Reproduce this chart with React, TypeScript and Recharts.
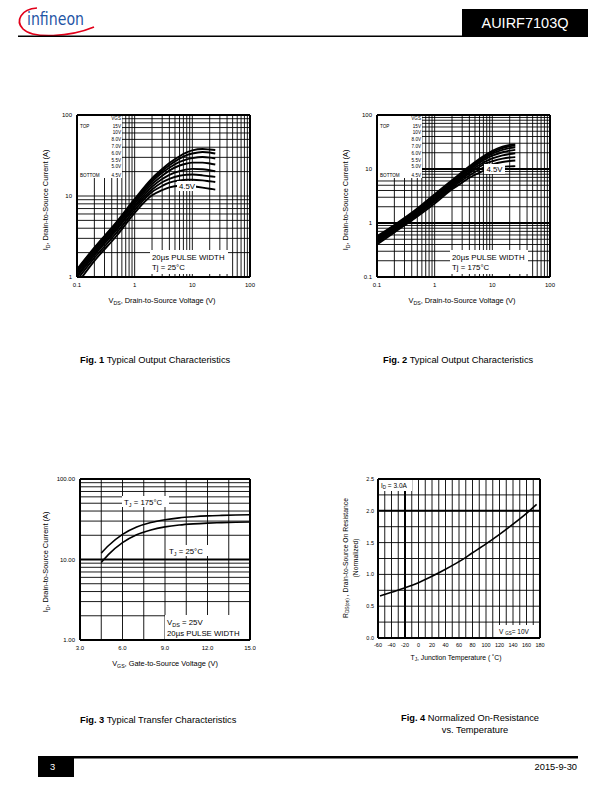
import React from 'react';
import { LineChart, Line, XAxis, YAxis, CartesianGrid, ReferenceLine } from 'recharts';

const FONT = '"Liberation Sans", Arial, Helvetica, sans-serif';

// ---------- Fig. 1 : Typical Output Characteristics, Tj = 25°C ----------
const fig1Vds = [0.1, 0.2, 0.5, 1, 2, 3, 4, 6, 8, 10, 15, 20, 25];
const fig1Id15V = [1.25, 2.3, 4.9, 9.2, 16.5, 21.5, 25.5, 31, 34.5, 36.5, 38, 37.5, 37];
const fig1Id10V = [1.22, 2.25, 4.75, 8.9, 15.8, 20.5, 24, 29, 32, 33.5, 35, 34.5, 33.5];
const fig1Id8V = [1.18, 2.15, 4.55, 8.5, 15, 19.3, 22.3, 26.3, 28.3, 29.3, 30.3, 29.8, 29];
const fig1Id7V = [1.12, 2.05, 4.35, 8.1, 14, 17.8, 20.6, 23.8, 25.2, 25.8, 25.8, 25.2, 24.5];
const fig1Id6V = [1.05, 1.95, 4.1, 7.6, 13, 16.2, 18.2, 20.3, 21.3, 21.6, 21.4, 20.8, 20.2];
const fig1Id55V = [1.0, 1.85, 3.9, 7.2, 12, 14.8, 16.3, 17.8, 18.3, 18.4, 18, 17.5, 17.2];
const fig1Id5V = [0.92, 1.72, 3.6, 6.7, 11.2, 13.3, 14.6, 15.6, 15.9, 15.9, 15.6, 15.2, 14.9];
const fig1Id45V = [0.82, 1.58, 3.3, 6.2, 10.2, 11.8, 12.8, 13.4, 13.4, 13.2, 12.7, 12.3, 12];

// ---------- Fig. 2 : Typical Output Characteristics, Tj = 175°C ----------
const fig2Vds = [0.1, 0.2, 0.5, 1, 2, 3, 4, 6, 8, 10, 15, 20, 25];
const fig2Id15V = [0.57, 0.92, 1.85, 3.4, 6.2, 8.8, 11.2, 15.5, 19, 21.8, 26, 28, 28.6];
const fig2Id10V = [0.55, 0.89, 1.78, 3.25, 5.95, 8.4, 10.7, 14.8, 18, 20.6, 24.5, 26.4, 27.1];
const fig2Id8V = [0.52, 0.85, 1.7, 3.1, 5.7, 8.0, 10.2, 14, 16.9, 19.2, 22.6, 24.4, 25.3];
const fig2Id7V = [0.5, 0.81, 1.62, 2.95, 5.4, 7.6, 9.6, 13.1, 15.7, 17.6, 20.4, 21.9, 22.6];
const fig2Id6V = [0.47, 0.77, 1.54, 2.8, 5.1, 7.1, 8.9, 12, 14.2, 15.7, 17.9, 19, 19.6];
const fig2Id55V = [0.45, 0.74, 1.47, 2.65, 4.8, 6.7, 8.3, 11, 12.8, 13.9, 15.6, 16.3, 16.6];
const fig2Id5V = [0.43, 0.71, 1.4, 2.5, 4.5, 6.2, 7.6, 9.8, 11.3, 12.2, 13.5, 14.1, 14.4];
const fig2Id45V = [0.4, 0.67, 1.32, 2.3, 4.2, 5.6, 6.9, 8.6, 9.7, 10.3, 11, 11.2, 11.3];

const vgsKeys = ['v15', 'v10', 'v8', 'v7', 'v6', 'v55', 'v5', 'v45'];
const vgsLegend = ['15V', '10V', '8.0V', '7.0V', '6.0V', '5.5V', '5.0V', '4.5V'];

// ---------- Fig. 3 : Typical Transfer Characteristics ----------
const fig3Vgs = [4.5, 5, 6, 7, 8, 9, 10, 11, 12, 13, 14, 15];
const fig3Id175 = [12, 14.8, 20.5, 25.3, 28.8, 31.2, 32.9, 34, 34.8, 35.3, 35.7, 36];
const fig3Id25 = [9.2, 11.5, 16.2, 20.3, 23.3, 25.4, 26.8, 27.7, 28.3, 28.7, 29, 29.2];

// ---------- Fig. 4 : Normalized On-Resistance vs Temperature ----------
const fig4Tj = [-57, -40, -20, 0, 20, 40, 60, 80, 100, 120, 140, 160, 175];
const fig4Rds = [0.66, 0.72, 0.79, 0.87, 0.97, 1.08, 1.2, 1.34, 1.48, 1.63, 1.79, 1.96, 2.1];

// ---------- ticks ----------
const logTicks01to100 = [0.1, 0.2, 0.3, 0.4, 0.5, 0.6, 0.7, 0.8, 0.9, 1, 2, 3, 4, 5, 6, 7, 8, 9, 10, 20, 30, 40, 50, 60, 70, 80, 90, 100];
const logTicks1to100 = [1, 2, 3, 4, 5, 6, 7, 8, 9, 10, 20, 30, 40, 50, 60, 70, 80, 90, 100];
const decadeLabels: Record<string, string> = { '0.1': '0.1', '1': '1', '10': '10', '100': '100' };
const fig3YLabels: Record<string, string> = { '1': '1.00', '10': '10.00', '100': '100.00' };
const fig3XTicks = [3, 4.5, 6, 7.5, 9, 10.5, 12, 13.5, 15];
const fig3XLabels: Record<string, string> = { '3': '3.0', '6': '6.0', '9': '9.0', '12': '12.0', '15': '15.0' };
const fig4XTicks = [-60, -50, -40, -30, -20, -10, 0, 10, 20, 30, 40, 50, 60, 70, 80, 90, 100, 110, 120, 130, 140, 150, 160, 170, 180];
const fig4YTicks = [0, 0.25, 0.5, 0.75, 1, 1.25, 1.5, 1.75, 2, 2.25, 2.5];
const fig4YLabels: Record<string, string> = { '0': '0.0', '0.5': '0.5', '1': '1.0', '1.5': '1.5', '2': '2.0', '2.5': '2.5' };

const mkRows = (x: number[], s: number[][]) =>
  x.map((vds, i) => {
    const r: any = { vds };
    vgsKeys.forEach((k, j) => (r[k] = s[j][i]));
    return r;
  });

const fig1Rows = mkRows(fig1Vds, [fig1Id15V, fig1Id10V, fig1Id8V, fig1Id7V, fig1Id6V, fig1Id55V, fig1Id5V, fig1Id45V]);
const fig2Rows = mkRows(fig2Vds, [fig2Id15V, fig2Id10V, fig2Id8V, fig2Id7V, fig2Id6V, fig2Id55V, fig2Id5V, fig2Id45V]);
const fig3Rows = fig3Vgs.map((vgs, i) => ({ vgs, t175: fig3Id175[i], t25: fig3Id25[i] }));
const fig4Rows = fig4Tj.map((tj, i) => ({ tj, r: fig4Rds[i] }));

const ML = 30;
const MR = 6;
const MT = 6;
const MB = 16;

const tickStyle = { fontSize: 6, fill: '#000', fontFamily: FONT };
const tickStyle4 = { fontSize: 5.5, fill: '#000', fontFamily: FONT };

const box = (left: number, top: number): React.CSSProperties => ({ position: 'absolute', left: left - ML, top: top - MT });

function OutputChart({ left, top, rows, yMin, yTicks, yLabels }: any) {
  const W = 173;
  const H = 162;
  return (
    <div style={box(left, top)}>
      <LineChart width={W + ML + MR} height={H + MT + MB} data={rows} margin={{ top: MT, right: MR, left: 0, bottom: 0 }}>
        <CartesianGrid stroke="#000" strokeWidth={0.9} />
        <XAxis dataKey="vds" type="number" scale="log" domain={[0.1, 100]} ticks={logTicks01to100} interval={0}
          tickFormatter={(v: number) => decadeLabels[String(v)] ?? ''} tickLine={false} axisLine={false}
          tickSize={0} tickMargin={6} height={MB} tick={tickStyle} allowDataOverflow />
        <YAxis type="number" scale="log" domain={[yMin, 100]} ticks={yTicks} interval={0}
          tickFormatter={(v: number) => yLabels[String(v)] ?? ''} tickLine={false} axisLine={false}
          tickSize={0} tickMargin={5} width={ML} tick={tickStyle} allowDataOverflow />
        <ReferenceLine x={0.1} stroke="#000" strokeWidth={2} />
        <ReferenceLine x={100} stroke="#000" strokeWidth={2} />
        <ReferenceLine y={yMin} stroke="#000" strokeWidth={2} />
        <ReferenceLine y={100} stroke="#000" strokeWidth={2} />
        {yMin < 1 && <ReferenceLine y={1} stroke="#000" strokeWidth={2} />}
        {yMin < 1 && <ReferenceLine y={10} stroke="#000" strokeWidth={2} />}
        {vgsKeys.map((k) => (
          <Line key={k} dataKey={k} type="monotone" stroke="#000" strokeWidth={1.9} dot={false} isAnimationActive={false} />
        ))}
      </LineChart>
    </div>
  );
}

function Legend({ x, y }: { x: number; y: number }) {
  const rowsY = [128.4, 134.4, 141, 148.4, 155, 161.7, 168.4, 176.7];
  return (
    <g fontFamily={FONT} fontSize={4.6} fill="#000">
      <rect x={x + 1} y={y + 1} width={44} height={62} fill="#fff" />
      <text x={x + 44} y={y + 5} textAnchor="end">VGS</text>
      <text x={x + 3} y={rowsY[0] - 115 + y}>TOP</text>
      <text x={x + 3} y={rowsY[7] - 115 + y}>BOTTOM</text>
      {vgsLegend.map((l, i) => (
        <text key={l} x={x + 44} y={rowsY[i] - 115 + y} textAnchor="end">{l}</text>
      ))}
    </g>
  );
}

function Caption({ x, y, num, text }: any) {
  return (
    <text x={x} y={y} fontFamily={FONT} fontSize={9.3} fill="#000">
      <tspan fontWeight="bold">{num}</tspan>
      <tspan>{text}</tspan>
    </text>
  );
}

function Overlay() {
  const t7 = { fontFamily: FONT, fontSize: 7.4, fill: '#000' } as any;
  const t8 = { fontFamily: FONT, fontSize: 7.8, fill: '#000' } as any;
  return (
    <svg width={612} height={792} style={{ position: 'absolute', left: 0, top: 0, pointerEvents: 'none' }}>
      {/* header */}
      <path d="M 37 8 C 21 9 15 21 23 29 C 33 39 70 37 94 27" stroke="#e2001a" strokeWidth={1.7} fill="none" />
      <text x={27} y={25} fontFamily='"DejaVu Sans Condensed", "Liberation Sans", sans-serif' fontSize={17}
        fill="#1f56a5" textLength={57} lengthAdjust="spacingAndGlyphs">infineon</text>
      <rect x={18} y={35.5} width={570} height={1.5} fill="#000" />
      <rect x={462} y={9} width={126} height={27} fill="#000" />
      <text x={525} y={28} textAnchor="middle" fontFamily={FONT} fontSize={14.5} fill="#fff">AUIRF7103Q</text>

      {/* Fig 1 annotations */}
      <Legend x={77} y={115} />
      <rect x={150} y={250} width={78} height={24} fill="#fff" />
      <text x={152} y={259.5} {...t8}>20µs PULSE WIDTH</text>
      <text x={152} y={270} {...t8}>Tj = 25°C</text>
      <rect x={177} y={181} width={19} height={10} fill="#fff" />
      <text x={179} y={189} {...t8}>4.5V</text>
      <text x={48} y={200} transform="rotate(-90 48 200)" textAnchor="middle" {...t7}>
        <tspan>I</tspan><tspan fontSize={5.2} dy={1.5}>D</tspan><tspan dy={-1.5}>, Drain-to-Source Current (A)</tspan>
      </text>
      <text x={162} y={303} textAnchor="middle" {...t7}>
        <tspan>V</tspan><tspan fontSize={5.2} dy={1.5}>DS</tspan><tspan dy={-1.5}>, Drain-to-Source Voltage (V)</tspan>
      </text>

      {/* Fig 2 annotations */}
      <Legend x={377} y={115} />
      <rect x={450} y={250} width={78} height={24} fill="#fff" />
      <text x={452} y={259.5} {...t8}>20µs PULSE WIDTH</text>
      <text x={452} y={270} {...t8}>Tj = 175°C</text>
      <rect x={484} y={164} width={21} height={10} fill="#fff" />
      <text x={486.5} y={172} {...t8}>4.5V</text>
      <text x={348} y={200} transform="rotate(-90 348 200)" textAnchor="middle" {...t7}>
        <tspan>I</tspan><tspan fontSize={5.2} dy={1.5}>D</tspan><tspan dy={-1.5}>, Drain-to-Source Current (A)</tspan>
      </text>
      <text x={462} y={303} textAnchor="middle" {...t7}>
        <tspan>V</tspan><tspan fontSize={5.2} dy={1.5}>DS</tspan><tspan dy={-1.5}>, Drain-to-Source Voltage (V)</tspan>
      </text>

      {/* Fig 3 annotations */}
      <rect x={122} y={496} width={47} height={11} fill="#fff" />
      <text x={124} y={505} {...t8}>
        <tspan>T</tspan><tspan fontSize={5.5} dy={1.5}>J</tspan><tspan dy={-1.5}> = 175°C</tspan>
      </text>
      <rect x={167} y={545} width={42} height={11} fill="#fff" />
      <text x={169} y={554} {...t8}>
        <tspan>T</tspan><tspan fontSize={5.5} dy={1.5}>J</tspan><tspan dy={-1.5}> = 25°C</tspan>
      </text>
      <rect x={165} y={615} width={84} height={24} fill="#fff" />
      <text x={167} y={625} {...t8}>
        <tspan>V</tspan><tspan fontSize={5.5} dy={1.5}>DS</tspan><tspan dy={-1.5}> = 25V</tspan>
      </text>
      <text x={167} y={635.5} {...t8}>20µs PULSE WIDTH</text>
      <text x={48} y={562} transform="rotate(-90 48 562)" textAnchor="middle" {...t7}>
        <tspan>I</tspan><tspan fontSize={5.2} dy={1.5}>D</tspan><tspan dy={-1.5}>, Drain-to-Source Current  (A)</tspan>
      </text>
      <text x={165} y={666} textAnchor="middle" {...t7}>
        <tspan>V</tspan><tspan fontSize={5.2} dy={1.5}>GS</tspan><tspan dy={-1.5}>, Gate-to-Source Voltage (V)</tspan>
      </text>

      {/* Fig 4 annotations */}
      <rect x={379} y={480} width={33} height={11} fill="#fff" />
      <text x={381} y={488} fontFamily={FONT} fontSize={6.5} fill="#000">
        <tspan>I</tspan><tspan fontSize={4.5} dy={1.2}>D</tspan><tspan dy={-1.2}> = 3.0A</tspan>
      </text>
      <rect x={497} y={625} width={42} height={12} fill="#fff" />
      <text x={499} y={634} fontFamily={FONT} fontSize={6.5} fill="#000">
        <tspan>V </tspan><tspan fontSize={4.5} dy={1.2}>GS</tspan><tspan dy={-1.2}>= 10V</tspan>
      </text>
      <text x={348} y={558} transform="rotate(-90 348 558)" textAnchor="middle" fontFamily={FONT} fontSize={6.8} fill="#000">
        <tspan>R</tspan><tspan fontSize={4.7} dy={1.2}>DS(on)</tspan><tspan dy={-1.2}> , Drain-to-Source On Resistance</tspan>
      </text>
      <text x={358} y={558} transform="rotate(-90 358 558)" textAnchor="middle" fontFamily={FONT} fontSize={6.8} fill="#000">(Normalized)</text>
      <text x={456} y={660} textAnchor="middle" fontFamily={FONT} fontSize={6.8} fill="#000">
        <tspan>T</tspan><tspan fontSize={4.7} dy={1.2}>J</tspan><tspan dy={-1.2}>, Junction Temperature    ( ˚C)</tspan>
      </text>

      {/* captions */}
      <Caption x={80} y={363} num="Fig. 1" text=" Typical Output Characteristics" />
      <Caption x={383} y={363} num="Fig. 2" text=" Typical Output Characteristics" />
      <Caption x={80} y={723} num="Fig. 3" text=" Typical Transfer Characteristics" />
      <Caption x={401} y={721} num="Fig. 4" text=" Normalized On-Resistance" />
      <text x={475} y={733} textAnchor="middle" fontFamily={FONT} fontSize={9.3} fill="#000">vs. Temperature</text>

      {/* footer */}
      <rect x={38} y={756} width={540} height={2.5} fill="#000" />
      <rect x={38} y={756} width={36} height={21} fill="#000" />
      <text x={50} y={770} fontFamily={FONT} fontSize={9.3} fill="#fff">3</text>
      <text x={577} y={770} textAnchor="end" fontFamily={FONT} fontSize={9.3} fill="#000">2015-9-30</text>
    </svg>
  );
}

export default function App() {
  return (
    <div style={{ position: 'absolute', left: 0, top: 0, width: 612, height: 792, background: '#fff', overflow: 'hidden' }}>
      <OutputChart left={77} top={115} rows={fig1Rows} yMin={1} yTicks={logTicks1to100} yLabels={decadeLabels} />
      <OutputChart left={377} top={115} rows={fig2Rows} yMin={0.1} yTicks={logTicks01to100} yLabels={decadeLabels} />

      {/* Fig 3 */}
      <div style={box(80, 479)}>
        <LineChart width={170 + ML + MR} height={161 + MT + MB} data={fig3Rows} margin={{ top: MT, right: MR, left: 0, bottom: 0 }}>
          <CartesianGrid stroke="#000" strokeWidth={0.9} />
          <XAxis dataKey="vgs" type="number" domain={[3, 15]} ticks={fig3XTicks} interval={0}
            tickFormatter={(v: number) => fig3XLabels[String(v)] ?? ''} tickLine={false} axisLine={false}
            tickSize={0} tickMargin={6} height={MB} tick={tickStyle} allowDataOverflow />
          <YAxis type="number" scale="log" domain={[1, 100]} ticks={logTicks1to100} interval={0}
            tickFormatter={(v: number) => fig3YLabels[String(v)] ?? ''} tickLine={false} axisLine={false}
            tickSize={0} tickMargin={5} width={ML} tick={tickStyle} allowDataOverflow />
          <ReferenceLine x={3} stroke="#000" strokeWidth={2} />
          <ReferenceLine x={15} stroke="#000" strokeWidth={2} />
          <ReferenceLine y={1} stroke="#000" strokeWidth={2} />
          <ReferenceLine y={100} stroke="#000" strokeWidth={2} />
          <ReferenceLine y={10} stroke="#000" strokeWidth={1.8} />
          <Line dataKey="t175" type="monotone" stroke="#000" strokeWidth={1.6} dot={false} isAnimationActive={false} />
          <Line dataKey="t25" type="monotone" stroke="#000" strokeWidth={1.6} dot={false} isAnimationActive={false} />
        </LineChart>
      </div>

      {/* Fig 4 */}
      <div style={box(378, 479)}>
        <LineChart width={162 + ML + MR} height={159 + MT + MB} data={fig4Rows} margin={{ top: MT, right: MR, left: 0, bottom: 0 }}>
          <CartesianGrid stroke="#000" strokeWidth={0.9} />
          <XAxis dataKey="tj" type="number" domain={[-60, 180]} ticks={fig4XTicks} interval={0}
            tickFormatter={(v: number) => (v % 20 === 0 ? String(v) : '')} tickLine={false} axisLine={false}
            tickSize={0} tickMargin={5} height={MB} tick={tickStyle4} allowDataOverflow />
          <YAxis type="number" domain={[0, 2.5]} ticks={fig4YTicks} interval={0}
            tickFormatter={(v: number) => fig4YLabels[String(v)] ?? ''} tickLine={false} axisLine={false}
            tickSize={0} tickMargin={4} width={ML} tick={tickStyle4} allowDataOverflow />
          <ReferenceLine x={-60} stroke="#000" strokeWidth={2} />
          <ReferenceLine x={180} stroke="#000" strokeWidth={2} />
          <ReferenceLine y={0} stroke="#000" strokeWidth={2} />
          <ReferenceLine y={2.5} stroke="#000" strokeWidth={2} />
          <ReferenceLine y={2} stroke="#000" strokeWidth={2} />
          <ReferenceLine x={-20} stroke="#000" strokeWidth={2} />
          <Line dataKey="r" type="monotone" stroke="#000" strokeWidth={1.6} dot={false} isAnimationActive={false} />
        </LineChart>
      </div>

      <Overlay />
    </div>
  );
}
